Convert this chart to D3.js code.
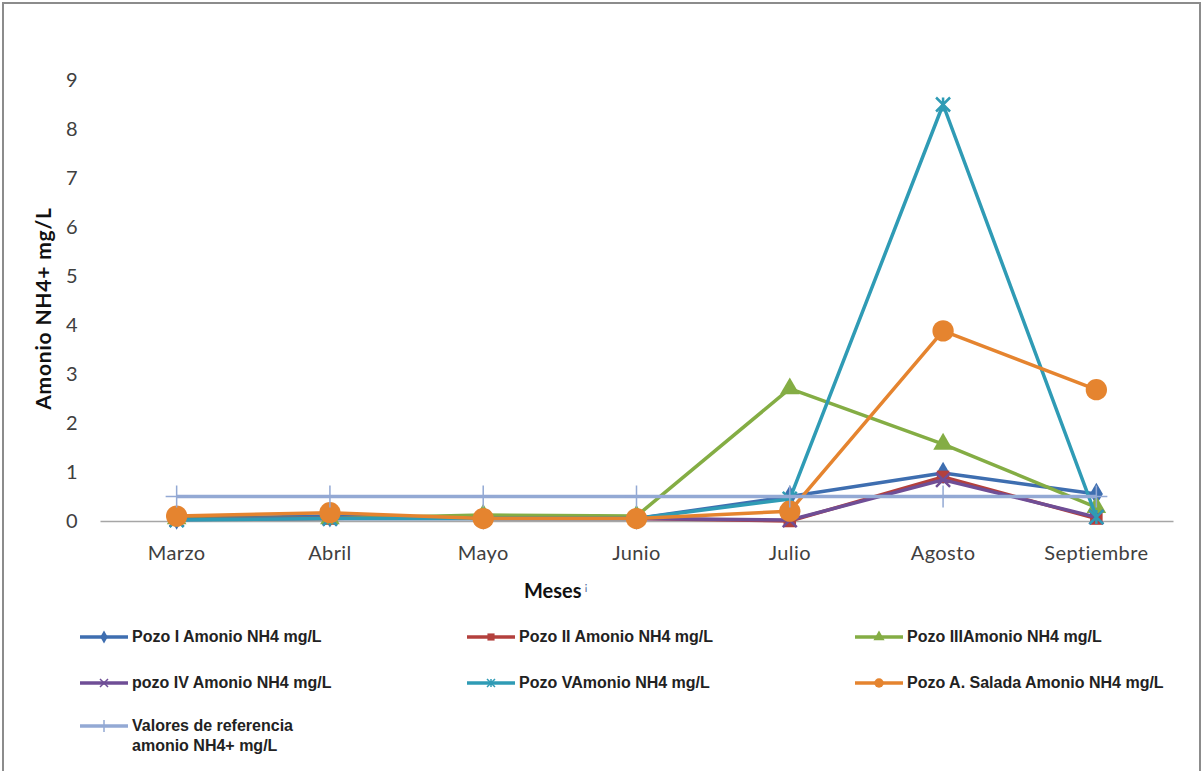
<!DOCTYPE html>
<html>
<head>
<meta charset="utf-8">
<script src="https://cdn.jsdelivr.net/npm/d3@7"></script>
<style>
  body { margin: 0; background: #fff; }
  svg { display: block; }
  .tick text { font-family: Lato, "Open Sans", sans-serif; font-size: 20px; letter-spacing: 0.4px; fill: #404040; }
  .legend text { font-family: "Liberation Sans Narrow", "Arial Narrow", sans-serif; font-weight: bold; font-size: 16px; fill: #222; }
</style>
</head>
<body>
<script>
const months = ['Marzo', 'Abril', 'Mayo', 'Junio', 'Julio', 'Agosto', 'Septiembre'];

const pozoI = [0.05, 0.1, 0.05, 0.05, 0.5, 0.98, 0.55];
const pozoII = [0.05, 0.05, 0.1, 0.05, 0.0, 0.9, 0.05];
const pozoIII = [0.05, 0.05, 0.12, 0.1, 2.7, 1.57, 0.28];
const pozoIV = [0.03, 0.05, 0.05, 0.05, 0.02, 0.84, 0.08];
const pozoV = [0.02, 0.05, 0.05, 0.05, 0.45, 8.5, 0.08];
const pozoSalada = [0.1, 0.17, 0.05, 0.05, 0.2, 3.88, 2.68];
const referencia = [0.5, 0.5, 0.5, 0.5, 0.5, 0.5, 0.5];

const yTicks = [0, 1, 2, 3, 4, 5, 6, 7, 8, 9];

const series = [
  { name: 'Pozo I Amonio NH4 mg/L', values: pozoI, color: '#3e6eb0', marker: 'diamond' },
  { name: 'Pozo II Amonio NH4 mg/L', values: pozoII, color: '#b3403d', marker: 'square' },
  { name: 'Pozo IIIAmonio NH4 mg/L', values: pozoIII, color: '#84ad44', marker: 'triangle' },
  { name: 'pozo IV Amonio NH4 mg/L', values: pozoIV, color: '#6f4e96', marker: 'x' },
  { name: 'Pozo VAmonio NH4 mg/L', values: pozoV, color: '#2f9bb5', marker: 'star' },
  { name: 'Pozo A. Salada Amonio NH4 mg/L', values: pozoSalada, color: '#e5842f', marker: 'circle' },
  { name: ['Valores de referencia', 'amonio NH4+ mg/L'], values: referencia, color: '#93a9d4', marker: 'plus' }
];

const width = 1204, height = 771;
const svg = d3.select('body').append('svg')
  .attr('width', width)
  .attr('height', height);

// chart frame
svg.append('rect')
  .attr('x', 3).attr('y', 3)
  .attr('width', 1197).attr('height', 790)
  .attr('fill', '#fff')
  .attr('stroke', '#8c8c8c')
  .attr('stroke-width', 2);

const plot = { left: 100, right: 1173, top: 80, bottom: 521 };

const x = d3.scaleBand()
  .domain(months)
  .range([plot.left, plot.right]);

const y = d3.scaleLinear()
  .domain([0, 9])
  .range([plot.bottom, plot.top]);

// y axis (labels only)
const yAxis = svg.append('g')
  .attr('transform', `translate(${plot.left},0)`)
  .call(d3.axisLeft(y).tickValues(yTicks).tickSize(0).tickPadding(22).tickFormat(d3.format('d')));
yAxis.select('.domain').remove();

// x axis
const xAxis = svg.append('g')
  .attr('transform', `translate(0,${plot.bottom})`)
  .call(d3.axisBottom(x).tickSize(0).tickPadding(25));
xAxis.select('.domain')
  .attr('stroke', '#a6a6a6')
  .attr('stroke-width', 1.3);

svg.append('text')
  .attr('transform', `translate(51,${(plot.top + plot.bottom) / 2 + 8}) rotate(-90)`)
  .attr('text-anchor', 'middle')
  .style('font-family', 'Lato, "Open Sans", sans-serif')
  .style('font-weight', 'bold')
  .style('font-size', '21px')
  .style('letter-spacing', '0.8px')
  .style('fill', '#111')
  .text('Amonio NH4+ mg/L');

const xTitle = svg.append('text')
  .attr('x', 524)
  .attr('y', 598)
  .style('font-family', 'Lato, "Open Sans", sans-serif')
  .style('font-weight', 'bold')
  .style('font-size', '20px')
  .style('fill', '#111');
xTitle.append('tspan').text('Meses');
xTitle.append('tspan')
  .attr('dx', 3).attr('dy', -8)
  .style('font-size', '12px')
  .style('font-weight', 'normal')
  .style('fill', '#5a6fa0')
  .text('¡');

function markerPath(type, size) {
  const s = size;
  switch (type) {
    case 'diamond': return d3.symbol(d3.symbolDiamond, s * s * 0.75)();
    case 'square': return d3.symbol(d3.symbolSquare, s * s * 0.8)();
    case 'triangle': return d3.symbol(d3.symbolTriangle, s * s * 0.85)();
    case 'circle': return d3.symbol(d3.symbolCircle, s * s * 1.1)();
    case 'x': {
      const h = s / 2;
      return `M${-h},${-h}L${h},${h}M${-h},${h}L${h},${-h}`;
    }
    case 'star': {
      const h = s / 2;
      return `M${-h},${-h}L${h},${h}M${-h},${h}L${h},${-h}M0,${-h}L0,${h}`;
    }
    case 'plus': {
      const h = s / 2 + 2;
      return `M${-h},0L${h},0M0,${-h}L0,${h}`;
    }
  }
}

const line = d3.line()
  .x((d, i) => x(months[i]) + x.bandwidth() / 2)
  .y(d => y(d));

const stroked = ['x', 'star', 'plus'];

series.forEach(s => {
  const g = svg.append('g');
  g.append('path')
    .datum(s.values)
    .attr('d', line)
    .attr('fill', 'none')
    .attr('stroke', s.color)
    .attr('stroke-width', 3.5)
    .attr('stroke-linejoin', 'round');

  const size = s.marker === 'circle' ? 18 : (s.marker === 'plus' ? 18 : 14);
  g.selectAll('path.m')
    .data(s.values)
    .join('path')
    .attr('class', 'm')
    .attr('transform', (d, i) => `translate(${x(months[i]) + x.bandwidth() / 2},${y(d)})`)
    .attr('d', markerPath(s.marker, size))
    .attr('fill', stroked.includes(s.marker) ? 'none' : s.color)
    .attr('stroke', s.color)
    .attr('stroke-width', stroked.includes(s.marker) ? (s.marker === 'plus' ? 1.5 : 2.5) : 0);
});

// legend
const colX = [80, 467, 855];
const rowY = [637, 683, 726];
const legend = svg.append('g').attr('class', 'legend');
series.forEach((s, i) => {
  const lx = colX[i % 3];
  const ly = rowY[Math.floor(i / 3)];
  const g = legend.append('g').attr('transform', `translate(${lx},${ly})`);
  g.append('line')
    .attr('x1', 0).attr('x2', 48)
    .attr('stroke', s.color)
    .attr('stroke-width', 3.5);
  g.append('path')
    .attr('transform', 'translate(24,0)')
    .attr('d', markerPath(s.marker, 8))
    .attr('fill', stroked.includes(s.marker) ? 'none' : s.color)
    .attr('stroke', s.color)
    .attr('stroke-width', stroked.includes(s.marker) ? 1.5 : 0);
  const names = Array.isArray(s.name) ? s.name : [s.name];
  const t = g.append('text').attr('x', 52).attr('y', 5);
  names.forEach((n, k) => {
    t.append('tspan').attr('x', 52).attr('dy', k === 0 ? 0 : 20).text(n);
  });
});
</script>
</body>
</html>
